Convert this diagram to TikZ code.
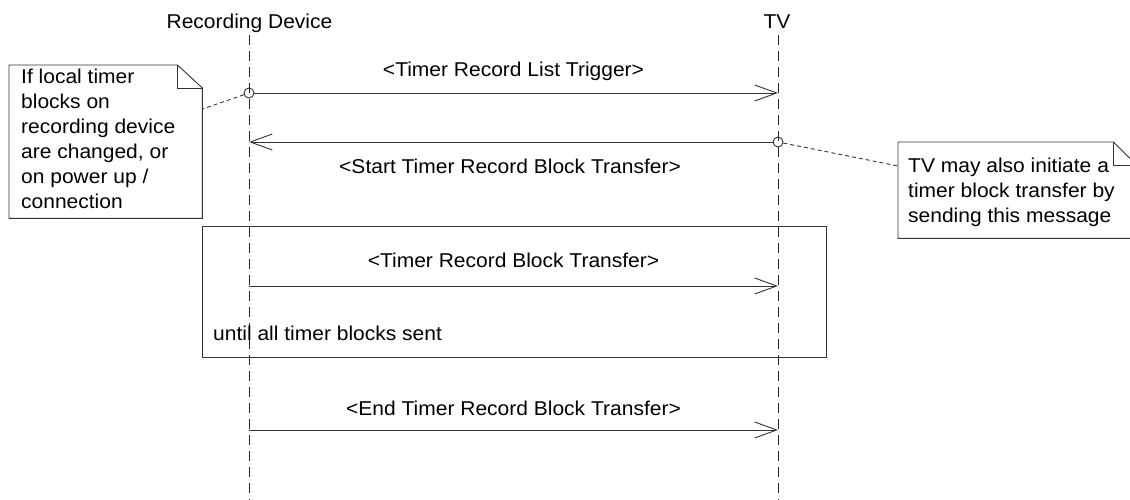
\documentclass[tikz,border=0pt]{standalone}
\usepackage{fontspec}
\setmainfont{Liberation Sans}[FakeStretch=1.05]
\usetikzlibrary{arrows.meta,calc}
\begin{document}
\begin{tikzpicture}[x=1pt,y=-1pt,
  every node/.style={font=\fontsize{20}{25}\selectfont, inner sep=0pt, text=black},
  ln/.style={draw=black!80, line width=0.9pt},
  lifeline/.style={draw=black!85, line width=0.9pt, dash pattern=on 10pt off 6pt},
  msg/.style={ln, -{Straight Barb[length=22pt, width=16pt, line width=0.9pt]}},
  origin/.style={circle, draw=black!80, line width=0.9pt, minimum size=10pt, inner sep=0pt},
  notebox/.style={rectangle, minimum width=#1, anchor=north west},
  notetext/.style={align=left, anchor=north west},
  notelink/.style={draw=black!85, line width=0.8pt, dash pattern=on 4pt off 3pt},
  framebox/.style={ln}
]
\useasboundingbox (0,0) rectangle (1130,500);
\clip (0,0) rectangle (1130,500);

% participants
\node[anchor=base] (rd) at (249.5,29) {Recording Device};
\node[anchor=base] (tv) at (777,29) {TV};
\coordinate (rdTop) at (249,35);
\coordinate (rdBot) at (249,500);
\coordinate (tvTop) at (778,35);
\coordinate (tvBot) at (778,500);
\draw[lifeline] (rdTop) -- (rdBot);
\draw[lifeline] (tvTop) -- (tvBot);

% loop frame
\coordinate (fA) at (202,226);
\coordinate (fB) at (826,357);
\draw[framebox, fill=none] (fA) rectangle (fB);
\node[anchor=base west] (until) at (213,340) {until all timer blocks sent};

% message anchor points on lifelines
\node[origin] (c1) at (249,93) {};
\coordinate (m1) at (778,93);
\node[origin] (c2) at (778,142) {};
\coordinate (m2) at (249,142);
\coordinate (m3a) at (249,286);
\coordinate (m3b) at (778,286);
\coordinate (m4a) at (249,430);
\coordinate (m4b) at (778,430);

% messages
\draw[msg] (c1) -- (m1);
\node[anchor=base] (l1) at (513.5,77) {<Timer Record List Trigger>};
\draw[msg] (c2) -- (m2);
\node[anchor=base] (l2) at (510,173) {<Start Timer Record Block Transfer>};
\draw[msg] (m3a) -- (m3b);
\node[anchor=base] (l3) at (513.5,267) {<Timer Record Block Transfer>};
\draw[msg] (m4a) -- (m4b);
\node[anchor=base] (l4) at (513.5,415) {<End Timer Record Block Transfer>};

% left note
\node[notebox=193pt, minimum height=153pt] (n1) at (9,65) {};
\filldraw[ln, fill=white] (n1.north west) -- ($(n1.north east)+(-25,0)$) -- ($(n1.north east)+(0,23)$) -- (n1.south east) -- (n1.south west) -- cycle;
\draw[ln] ($(n1.north east)+(-25,0)$) |- ($(n1.north east)+(0,23)$);
\node[notetext] (n1t) at (21,68.5) {If local timer\\blocks on\\recording device\\are changed, or\\on power up /\\connection};
\draw[notelink] (c1) -- ($(n1.north east)+(0,44)$);

% right note
\node[notebox=238pt, minimum height=96pt] (n2) at (898,142) {};
\filldraw[ln, fill=white] (n2.north west) -- ($(n2.north east)+(-23,0)$) -- ($(n2.north east)+(0,23)$) -- (n2.south east) -- (n2.south west) -- cycle;
\draw[ln] ($(n2.north east)+(-23,0)$) |- ($(n2.north east)+(0,23)$);
\node[notetext] (n2t) at (908,157.5) {TV may also initiate a\\timer block transfer by\\sending this message};
\draw[notelink] (c2) -- ($(n2.north west)+(0,24)$);
\end{tikzpicture}
\end{document}
